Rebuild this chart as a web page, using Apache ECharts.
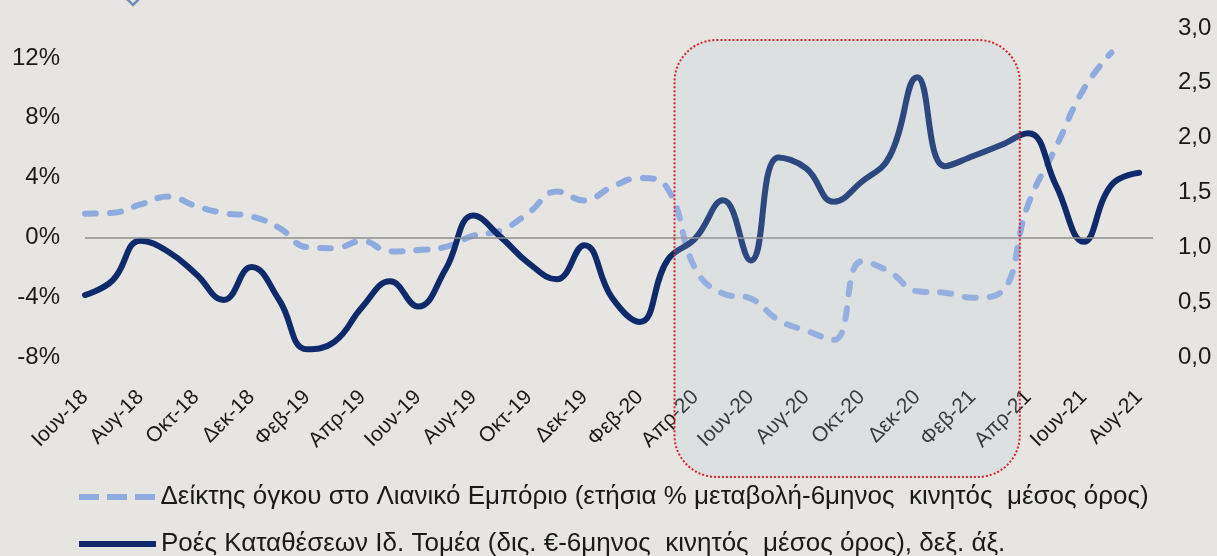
<!DOCTYPE html>
<html>
<head>
<meta charset="utf-8">
<script src="https://cdn.jsdelivr.net/npm/echarts/dist/echarts.min.js"></script>
<style>
  html, body { margin: 0; padding: 0; background: #e6e5e1; }
  #chart { width: 1217px; height: 556px; }
</style>
</head>
<body>
<div id="chart"></div>
<script>
const months = ['Ιουν-18', 'Ιουλ-18', 'Αυγ-18', 'Σεπ-18', 'Οκτ-18', 'Νοε-18', 'Δεκ-18',
  'Ιαν-19', 'Φεβ-19', 'Μαρ-19', 'Απρ-19', 'Μαϊ-19', 'Ιουν-19', 'Ιουλ-19', 'Αυγ-19', 'Σεπ-19', 'Οκτ-19', 'Νοε-19', 'Δεκ-19',
  'Ιαν-20', 'Φεβ-20', 'Μαρ-20', 'Απρ-20', 'Μαϊ-20', 'Ιουν-20', 'Ιουλ-20', 'Αυγ-20', 'Σεπ-20', 'Οκτ-20', 'Νοε-20', 'Δεκ-20',
  'Ιαν-21', 'Φεβ-21', 'Μαρ-21', 'Απρ-21', 'Μαϊ-21', 'Ιουν-21', 'Ιουλ-21', 'Αυγ-21']

// retail volume index, yoy % change, 6m moving avg (left axis)
const retailVolume = [1.58, 1.64, 2.2, 2.73, 2.09, 1.62, 1.4,
  0.64, -0.65, -0.72, -0.24, -0.95, -0.85, -0.64, 0.11, 0.47, 1.65, 3.07, 2.47,
  3.38, 3.97, 3.27, -2.09, -3.76, -4.09, -5.53, -6.24, -6.85, -1.6, -2.3, -3.6,
  -3.7, -4.03, -3.7, 2.2, 6.02, 9.91, 12.36, null]

// private sector deposit flows, bn €, 6m moving avg (right axis)
const depositFlows = [0.565, 0.7, 1.06, 0.96, 0.757, 0.52, 0.82,
  0.52, 0.07, 0.14, 0.459, 0.69, 0.46, 0.8, 1.29, 1.091, 0.854, 0.708, 1.02,
  0.54, 0.32, 0.884, 1.082, 1.43, 0.88, 1.82, 1.72, 1.416, 1.598, 1.826, 2.55,
  1.74, 1.83, 1.93, 2.04, 1.568, 1.05, 1.568, 1.68]

const leftTicks = [-8, -4, 0, 4, 8, 12]
const rightTicks = [0, 0.5, 1, 1.5, 2, 2.5, 3]

const retailName = 'Δείκτης όγκου στο Λιανικό Εμπόριο (ετήσια % μεταβολή-6μηνος  κινητός  μέσος όρος)'
const depositName = 'Ροές Καταθέσεων Ιδ. Τομέα (δις. €-6μηνος  κινητός  μέσος όρος), δεξ. άξ.'

const font = '"Liberation Sans", Arial, sans-serif'

const chart = echarts.init(document.getElementById('chart'))

const legendBase = {
  orient: 'vertical',
  left: 79,
  padding: 0,
  itemWidth: 77,
  itemHeight: 6,
  selectedMode: false,
  textStyle: { fontFamily: font, fontSize: 26, color: '#1a1a1a' }
}

chart.setOption({
  backgroundColor: '#e6e5e1',
  animation: false,
  grid: { left: 85, right: 64, top: 28, bottom: 199, containLabel: false },
  legend: [
    Object.assign({}, legendBase, {
      top: 484,
      data: [{ name: retailName, icon: 'path://M0,0h20v6h-20z M28,0h20v6h-20z M56,0h20v6h-20z' }]
    }),
    Object.assign({}, legendBase, {
      top: 531,
      data: [{ name: depositName, icon: 'rect' }]
    })
  ],
  xAxis: {
    type: 'value',
    min: 0,
    max: months.length - 0.5,
    interval: 2,
    axisLine: { show: false },
    axisTick: { show: false },
    splitLine: { show: false },
    axisLabel: {
      rotate: 45,
      margin: 37,
      fontFamily: font,
      fontSize: 21,
      color: '#1a1a1a',
      showMaxLabel: false,
      formatter: v => (Number.isInteger(v) && v % 2 === 0 ? months[v] : '')
    }
  },
  yAxis: [
    {
      type: 'value',
      min: leftTicks[0],
      max: 14,
      interval: 4,
      splitLine: { show: false },
      axisLine: { show: false },
      axisTick: { show: false },
      axisLabel: {
        margin: 25,
        fontFamily: font,
        fontSize: 24,
        color: '#1a1a1a',
        showMaxLabel: false,
        formatter: v => v + '%'
      }
    },
    {
      type: 'value',
      min: rightTicks[0],
      max: rightTicks[rightTicks.length - 1],
      interval: 0.5,
      splitLine: { show: false },
      axisLine: { show: false },
      axisTick: { show: false },
      axisLabel: {
        margin: 25,
        fontFamily: font,
        fontSize: 24,
        color: '#1a1a1a',
        formatter: v => v.toFixed(1).replace('.', ',')
      }
    }
  ],
  series: [
    {
      name: retailName,
      type: 'line',
      yAxisIndex: 0,
      smooth: 0.45,
      symbol: 'none',
      data: retailVolume.map((v, i) => [i, v]),
      lineStyle: { color: '#8eaadf', width: 6, type: [11, 14], cap: 'round' },
      itemStyle: { color: '#8eaadf' },
      markLine: {
        silent: true,
        symbol: 'none',
        label: { show: false },
        lineStyle: { color: '#8c8c8c', width: 1.5, type: 'solid' },
        data: [{ yAxis: 0 }]
      },
      z: 2
    },
    {
      name: depositName,
      type: 'line',
      yAxisIndex: 1,
      smooth: 0.45,
      symbol: 'none',
      data: depositFlows.map((v, i) => [i, v]),
      lineStyle: { color: '#0e2a6b', width: 6, cap: 'round', join: 'round' },
      itemStyle: { color: '#0e2a6b' },
      z: 3
    }
  ]
})

// highlighted pandemic period: rounded box laid over the plot
const boxLeft = chart.convertToPixel({ xAxisIndex: 0 }, 21.25)
const boxRight = chart.convertToPixel({ xAxisIndex: 0 }, 33.7)
chart.setOption({
  graphic: [
    {
      type: 'rect',
      z: 100,
      silent: true,
      shape: { x: boxLeft, y: 40, width: boxRight - boxLeft, height: 437, r: 42 },
      style: {
        fill: 'rgba(183,203,225,0.19)',
        stroke: '#d6232f',
        lineWidth: 2,
        lineDash: [2, 2]
      }
    },
    {
      type: 'polyline',
      silent: true,
      shape: { points: [[127, -1], [133, 5], [139, -1]] },
      style: { stroke: '#6f8fb5', lineWidth: 2.5, fill: null }
    }
  ]
})
</script>
</body>
</html>
